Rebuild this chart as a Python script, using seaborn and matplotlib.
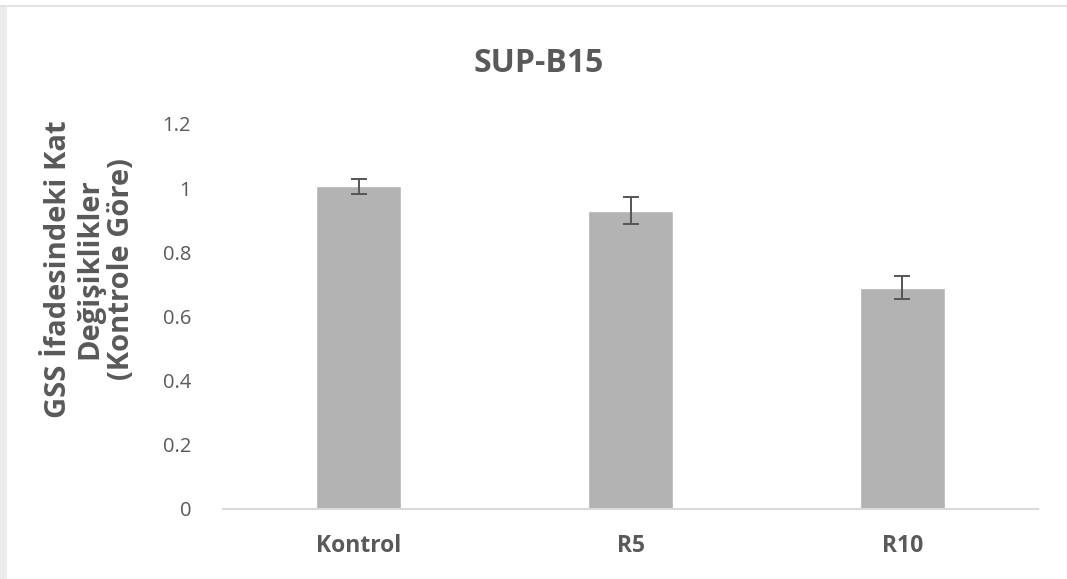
import matplotlib
matplotlib.use("Agg")
import matplotlib.pyplot as plt
import seaborn as sns
import pandas as pd
from matplotlib.patches import Rectangle


# ---------------------------------------------------
# Data

groups = ["Kontrol", "R5", "R10"]
fold_change = [1.005, 0.93, 0.69]
fold_err = [0.022, 0.043, 0.036]

y_ticks = [0, 0.2, 0.4, 0.6, 0.8, 1, 1.2]
y_tick_labels = ["0", "0.2", "0.4", "0.6", "0.8", "1", "1.2"]

df = pd.DataFrame({"group": groups, "value": fold_change})


# ---------------------------------------------------
# Style

sns.set_theme(style="white")
plt.rcParams["font.family"] = ["Open Sans", "DejaVu Sans"]

text_color = "#595959"


# ---------------------------------------------------
# Plot

fig = plt.figure(figsize=(10.67, 5.79), dpi=100)
fig.patch.set_facecolor("white")

# light grey frame left / top like the screenshot
fig.patches.append(Rectangle((0, 0), 0.007, 0.99, transform=fig.transFigure,
                             facecolor="#ebebeb", edgecolor="none", zorder=0))
fig.patches.append(Rectangle((0, 0.988), 1, 0.004, transform=fig.transFigure,
                             facecolor="#e3e3e3", edgecolor="none", zorder=0))

ax = fig.add_axes([0.209, 0.121, 0.764, 0.665])

sns.barplot(
    data=df,
    x="group",
    y="value",
    color="#b3b3b3",
    saturation=1,
    width=0.313,
    errorbar=None,
    ax=ax)

ax.errorbar(
    groups,
    fold_change,
    yerr=fold_err,
    fmt="none",
    ecolor="#555555",
    elinewidth=1.4,
    capsize=6,
    capthick=1.4)

ax.set_ylim(0, 1.2)
ax.set_xlim(-0.5, 2.5)
ax.set_yticks(y_ticks)
ax.set_yticklabels(y_tick_labels, fontsize=14.5, color=text_color)
ax.set_xticks(range(len(groups)))
ax.set_xticklabels(groups, fontsize=16.5, fontweight="bold", color=text_color)
ax.tick_params(axis="y", length=0, pad=23)
ax.tick_params(axis="x", length=0, pad=18)

for side in ["top", "right", "left"]:
    ax.spines[side].set_visible(False)
ax.spines["bottom"].set_color("#d9d9d9")
ax.spines["bottom"].set_linewidth(1.5)

ax.set_xlabel("")
ax.set_ylabel("")
ax.text(-0.163, 0.623,
        "GSS İfadesindeki Kat\nDeğişiklikler\n(Kontrole Göre)",
        transform=ax.transAxes, rotation=90,
        ha="center", va="center", multialignment="center",
        fontsize=21, fontweight="bold", color=text_color,
        linespacing=1.1)

fig.text(0.505, 0.89, "SUP-B15", ha="center", va="center",
         fontsize=23, fontweight="bold", color=text_color)

plt.savefig("out.png", dpi=100)
plt.close()
